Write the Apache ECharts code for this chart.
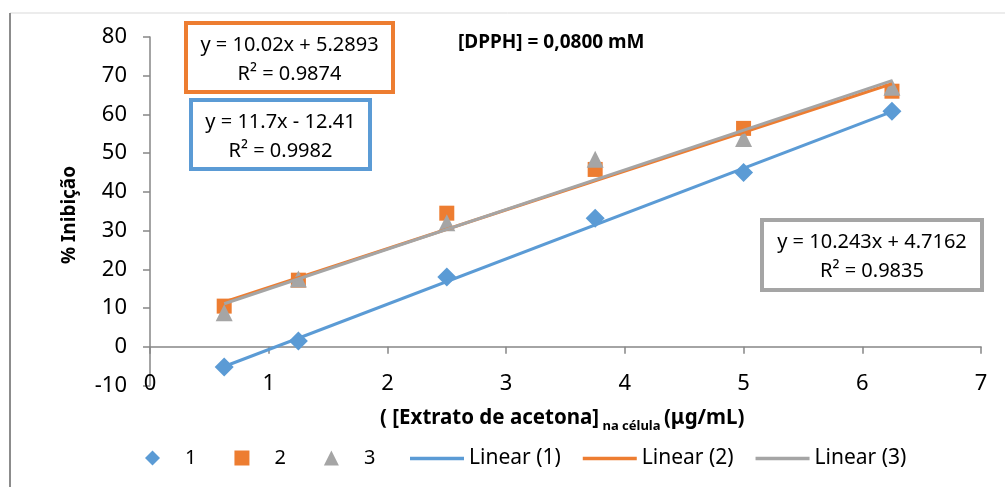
<!DOCTYPE html>
<html>
<head>
<meta charset="utf-8">
<script src="https://cdn.jsdelivr.net/npm/echarts@6/dist/echarts.min.js"></script>
<style>
  html, body { margin: 0; padding: 0; background: #fff; }
  #chart { width: 1005px; height: 487px; }
</style>
</head>
<body>
<div id="chart"></div>
<script>
// concentrations (µg/mL)
var xValues = [0.625, 1.25, 2.5, 3.75, 5, 6.25];
// % inibição, three replicates
var serie1 = [-5.2, 1.5, 18, 33.2, 45, 60.8];
var serie2 = [10.5, 17.2, 34.5, 45.8, 56.4, 66];
var serie3 = [8.8, 17.5, 32, 48.4, 53.8, 67];
// trendline coefficients [slope, intercept] as printed on the chart
var trend1 = [11.7, -12.41];
var trend2 = [10.02, 5.2893];
var trend3 = [10.243, 4.7162];
var r2 = ['0.9982', '0.9874', '0.9835'];
var yTicks = [-10, 80, 10];
var xTicks = [0, 7, 1];

var blue = '#5B9BD5', orange = '#ED7D31', grey = '#A5A5A5';
var font = 'Noto Sans';

function pairs(vals) {
    return xValues.map(function(x, i) { return [x, vals[i]]; });
}
function trendLine(c) {
    var x0 = xValues[0], x1 = xValues[xValues.length - 1];
    return [[x0, c[0] * x0 + c[1]], [x1, c[0] * x1 + c[1]]];
}
function eqText(c) {
    var s = c[1] < 0 ? ' - ' : ' + ';
    return 'y = ' + c[0] + 'x' + s + Math.abs(c[1]);
}
function eqBox(x, y, w, h, color, c, r) {
    return {
        type: 'group', left: x, top: y, z: 100,
        children: [{
            type: 'rect',
            shape: { x: 0, y: 0, width: w, height: h },
            style: { fill: '#fff', stroke: color, lineWidth: 4 }
        }, {
            type: 'text', x: w / 2, y: 22,
            style: { text: eqText(c), font: '20px "' + font + '"', fill: '#000', align: 'center', verticalAlign: 'middle' }
        }, {
            type: 'text', x: w / 2, y: 51,
            style: { text: 'R² = ' + r, font: '20px "' + font + '"', fill: '#000', align: 'center', verticalAlign: 'middle' }
        }]
    };
}

var chart = echarts.init(document.getElementById('chart'));
var option = {
    backgroundColor: '#fff',
    textStyle: { fontFamily: font, color: '#000' },
    animation: false,
    grid: { left: 150, right: 24, top: 37, bottom: 101.5 },
    xAxis: {
        type: 'value',
        min: xTicks[0], max: xTicks[1], interval: xTicks[2],
        axisLine: { onZero: true, lineStyle: { color: '#868686', width: 1.5 } },
        axisTick: { length: 7, lineStyle: { color: '#868686', width: 1.5 } },
        axisLabel: { margin: -13, fontSize: 22, color: '#000', fontFamily: font },
        splitLine: { show: false }
    },
    yAxis: {
        type: 'value',
        min: yTicks[0], max: yTicks[1], interval: yTicks[2],
        axisLine: { show: true, lineStyle: { color: '#868686', width: 1.5 } },
        axisTick: { show: true, length: 7, lineStyle: { color: '#868686', width: 1.5 } },
        axisLabel: { margin: 23, fontSize: 22, color: '#000', fontFamily: font },
        splitLine: { show: false }
    },
    legend: [{
        data: ['1', '2', '3'],
        left: 140, top: 443,
        itemWidth: 15, itemHeight: 15, itemGap: 38,
        textStyle: { fontSize: 20, fontFamily: font, color: '#000', padding: [0, 0, 0, 20] }
    }, {
        data: [
            { name: 'Linear (1)', icon: 'path://M0,0H60V4H0Z' },
            { name: 'Linear (2)', icon: 'path://M0,0H60V4H0Z' },
            { name: 'Linear (3)', icon: 'path://M0,0H60V4H0Z' }
        ],
        left: 405, top: 443,
        itemWidth: 54, itemHeight: 14, itemGap: 22,
        textStyle: { fontSize: 21, fontFamily: font, color: '#000' }
    }],
    graphic: [
        { type: 'line', shape: { x1: 10, y1: 13, x2: 1005, y2: 13 }, style: { stroke: '#d9d9d9', lineWidth: 1 } },
        { type: 'line', shape: { x1: 10, y1: 13, x2: 10, y2: 487 }, style: { stroke: '#8c8c8c', lineWidth: 2 } },
        eqBox(184, 21, 207, 69, orange, trend2, r2[1]),
        eqBox(189, 98, 179, 69, blue, trend1, r2[0]),
        eqBox(760, 218, 220, 70, grey, trend3, r2[2]),
        {
            type: 'text', left: 458, top: 33,
            style: { text: '[DPPH] = 0,0800 mM', font: 'bold 19px "' + font + '"', fill: '#000' }
        },
        {
            type: 'text', x: 70, y: 215, rotation: Math.PI / 2,
            style: { text: '% Inibição', font: 'bold 19px "' + font + '"', fill: '#000', align: 'center', verticalAlign: 'middle' }
        },
        {
            type: 'text', left: 380, top: 408,
            style: {
                text: '{b|( [Extrato de acetona]}{s| na célula }{b|(μg/mL)}',
                rich: {
                    b: { font: 'bold 20.5px "' + font + '"', fill: '#000', verticalAlign: 'bottom' },
                    s: { font: 'bold 13px "' + font + '"', fill: '#000', verticalAlign: 'bottom', padding: [0, 0, -4, 0] }
                }
            }
        }
    ],
    series: [
        { name: '1', type: 'scatter', data: pairs(serie1), symbol: 'diamond', symbolSize: 19, itemStyle: { color: blue, opacity: 1 }, z: 3 },
        { name: '2', type: 'scatter', data: pairs(serie2), symbol: 'rect', symbolSize: 15, itemStyle: { color: orange, opacity: 1 }, z: 3 },
        { name: '3', type: 'scatter', data: pairs(serie3), symbol: 'triangle', symbolSize: 17, itemStyle: { color: grey, opacity: 1 }, z: 3 },
        { name: 'Linear (1)', type: 'line', data: trendLine(trend1), showSymbol: false, lineStyle: { color: blue, width: 3 }, itemStyle: { color: blue }, z: 4 },
        { name: 'Linear (2)', type: 'line', data: trendLine(trend2), showSymbol: false, lineStyle: { color: orange, width: 3 }, itemStyle: { color: orange }, z: 4 },
        { name: 'Linear (3)', type: 'line', data: trendLine(trend3), showSymbol: false, lineStyle: { color: grey, width: 3 }, itemStyle: { color: grey }, z: 5 }
    ]
};
chart.setOption(option);
window.addEventListener('resize', function() { chart.resize(); });
</script>
</body>
</html>
